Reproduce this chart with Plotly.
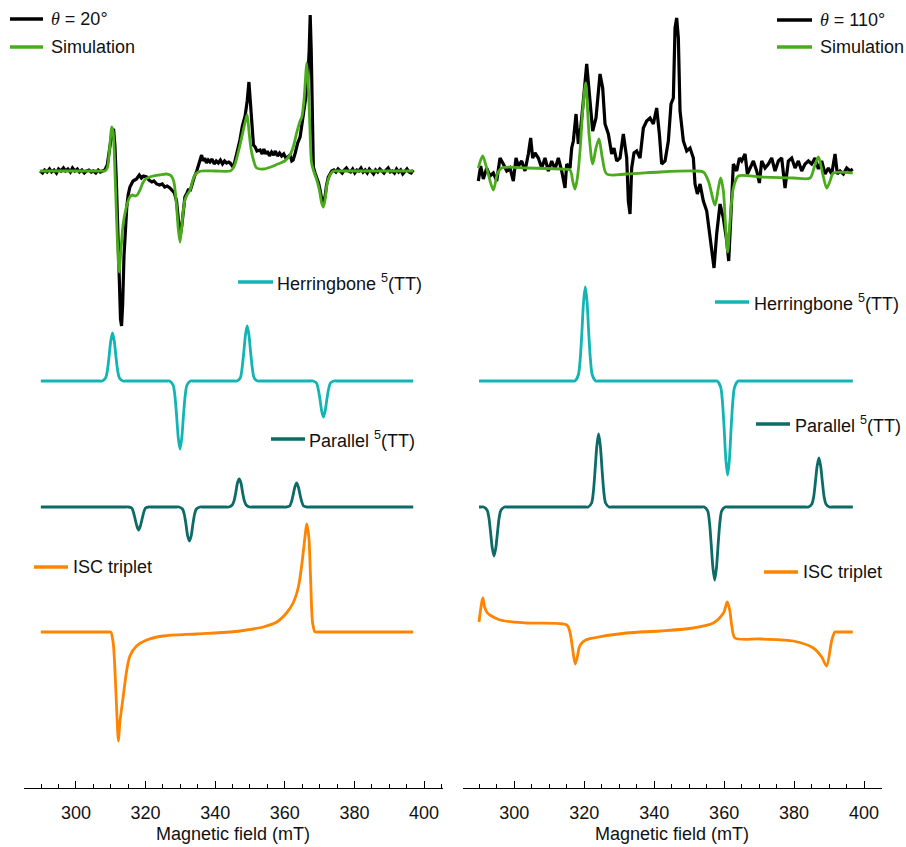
import numpy as np
import plotly.graph_objects as go

# ---------------------------------------------------------------
# Field sweep data (mT) and signal (arbitrary units), theta = 20 deg
# ---------------------------------------------------------------
EXP_20 = [
    (289.7, 0), (290.4, -2), (291.0, 1), (291.7, -1), (292.4, 2), (293.0, -1),
    (293.7, 1), (294.4, -2), (295.0, 2), (295.7, 0), (296.4, 3), (297.0, 0),
    (297.7, 2), (298.4, -1), (299.0, 3), (299.7, 0), (300.4, 2), (301.0, -1),
    (301.7, 1), (302.4, -2), (303.0, 0), (303.7, 1), (304.4, -1), (305.0, 0),
    (305.7, -2), (306.4, 1), (307.0, -1), (307.7, 0), (308.3, 1), (309.0, 6),
    (309.5, 18), (309.9, 32), (310.4, 40), (310.8, 42), (311.2, 25), (311.6, -10),
    (312.0, -60), (312.4, -110), (312.8, -148), (313.1, -155), (313.4, -135),
    (313.8, -85), (314.2, -52), (314.6, -36), (315.0, -24), (315.5, -16),
    (316.4, -10), (317.4, -8), (318.2, -4), (318.8, -7), (319.4, -5), (320.3, -6),
    (321.0, -9), (321.8, -11), (322.4, -10), (323.2, -13), (324.0, -14),
    (324.8, -13), (325.5, -16), (326.2, -15), (327.0, -17), (327.6, -19),
    (328.3, -22), (328.9, -30), (329.4, -50), (329.9, -66), (330.4, -55),
    (330.9, -35), (331.3, -26), (331.9, -22), (332.4, -18), (332.8, -20),
    (333.4, -12), (334.0, -6), (334.7, 0), (335.3, 8), (335.8, 14), (336.1, 16),
    (336.5, 10), (337.0, 13), (337.5, 8), (338.0, 11), (338.5, 9), (339.1, 12),
    (339.7, 7), (340.3, 10), (340.9, 8), (341.5, 11), (342.1, 7), (342.7, 10),
    (343.3, 8), (343.9, 9), (344.3, 8), (344.9, 5), (345.4, 6), (345.9, 12),
    (346.5, 22), (347.1, 31), (347.8, 45), (348.6, 55), (349.2, 70), (349.7, 89),
    (350.1, 70), (350.6, 40), (351.0, 26), (351.5, 24), (352.0, 20), (352.9, 21),
    (353.5, 17), (354.0, 22), (354.5, 17), (355.0, 20), (355.6, 15), (356.2, 19),
    (356.8, 16), (357.3, 20), (357.9, 15), (358.5, 18), (359.1, 15), (359.7, 17),
    (360.3, 13), (360.9, 14), (361.5, 16), (362.0, 10), (362.4, 11), (363.0, 18),
    (363.7, 28), (364.4, 34), (365.1, 50), (365.8, 64), (366.5, 85), (367.0, 120),
    (367.3, 156), (367.6, 120), (367.9, 40), (368.2, 4), (368.7, -2), (369.2, -6),
    (369.7, -12), (370.2, -20), (370.7, -30), (371.1, -32), (371.6, -25),
    (372.0, -14), (372.5, -6), (373.0, -3), (373.5, 0), (374.1, 1), (374.7, -1),
    (375.3, 2), (375.9, 0), (376.5, -2), (377.1, 1), (377.7, 3), (378.3, 0),
    (378.9, -1), (379.5, 2), (380.1, -2), (380.7, 1), (381.3, 0), (381.9, 3),
    (382.5, -1), (383.1, 1), (383.7, -2), (384.3, 2), (384.9, 0), (385.5, -3),
    (386.1, 1), (386.7, -1), (387.3, 2), (387.9, 0), (388.5, -2), (389.1, 1),
    (389.7, 3), (390.3, -1), (390.9, 0), (391.5, -2), (392.1, 2), (392.7, -1),
    (393.3, 1), (393.9, -3), (394.5, 0), (395.1, 2), (395.7, -1), (396.3, -2),
    (396.9, 1),
]

SIM_20 = [
    (289.7, 0), (300.0, 0), (307.5, 0), (308.3, 0), (309.0, 3), (309.6, 20),
    (310.3, 44), (310.7, 38), (311.2, 0), (311.8, -60), (312.4, -101), (312.9, -80),
    (313.5, -55), (314.1, -42), (314.8, -32), (315.5, -26), (316.2, -24),
    (317.0, -25), (317.6, -24), (318.4, -19), (319.2, -12), (320.0, -8),
    (321.2, -6), (322.2, -5), (324.0, -4), (326.0, -3), (327.0, -4), (327.6, -6),
    (328.2, -12), (328.9, -35), (329.4, -58), (329.9, -71), (330.4, -55),
    (330.9, -38), (331.3, -29), (331.9, -24), (332.8, -19), (333.5, -10),
    (334.2, -4), (334.7, -2), (336.0, 0), (340.0, 0), (344.3, 0), (345.0, 2),
    (345.7, 7), (346.2, 13), (347.0, 24), (348.1, 41), (348.7, 50), (349.2, 56),
    (349.7, 40), (350.3, 22), (351.0, 11), (351.9, 3), (353.8, 2), (356.0, 4),
    (358.0, 7), (360.0, 10), (361.5, 16), (362.5, 25), (363.4, 38), (364.4, 50),
    (364.9, 54), (365.5, 70), (366.0, 95), (366.3, 108), (366.7, 90), (367.2, 45),
    (367.7, 8), (368.3, 0), (369.2, -9), (370.0, -20), (370.6, -32), (371.1, -36),
    (371.6, -28), (372.2, -12), (373.0, -4), (374.0, 0), (375.0, 0), (385.0, 0),
    (396.9, 0),
]

HERRINGBONE_20 = [
    (289.9, 0), (300.0, 0), (306.8, 0), (307.5, 0), (308.5, 3), (309.0, 10),
    (309.5, 24), (310.0, 40), (310.5, 48), (311.0, 40), (311.5, 24), (312.0, 10),
    (312.5, 3), (313.5, 0), (314.2, 0), (320.0, 0), (326.2, 0),
    (326.9, 0), (327.9, -4), (328.4, -14), (328.9, -34), (329.4, -57), (329.9, -68),
    (330.4, -57), (330.9, -34), (331.4, -14), (331.9, -4), (332.9, 0), (333.6, 0),
    (340.0, 0), (345.5, 0),
    (346.2, 0), (347.2, 3), (347.7, 12), (348.2, 28), (348.7, 46), (349.2, 55),
    (349.7, 46), (350.2, 28), (350.7, 12), (351.2, 3), (352.2, 0), (352.9, 0),
    (360.0, 0), (367.4, 0),
    (368.1, 0), (369.1, -2), (369.6, -8), (370.1, -18), (370.6, -30), (371.1, -36),
    (371.6, -30), (372.1, -18), (372.6, -8), (373.1, -2), (374.1, 0), (374.8, 0),
    (385.0, 0), (396.9, 0),
]

PARALLEL_20 = [
    (289.9, 0), (300.0, 0), (314.3, 0), (315.0, 0), (316.0, -1), (316.5, -5),
    (317.0, -12), (317.5, -19), (318.0, -23), (318.5, -19), (319.0, -12),
    (319.5, -5), (320.0, -1), (321.0, 0), (321.7, 0), (325.0, 0), (328.9, 0),
    (329.6, 0), (330.6, -2), (331.1, -7), (331.6, -17), (332.1, -29), (332.6, -34),
    (333.1, -29), (333.6, -17), (334.1, -7), (334.6, -2), (335.6, 0), (336.3, 0),
    (340.0, 0), (343.2, 0),
    (343.9, 0), (344.9, 2), (345.4, 6), (345.9, 14), (346.4, 24), (346.9, 28),
    (347.4, 24), (347.9, 14), (348.4, 6), (348.9, 2), (349.9, 0), (350.6, 0),
    (355.0, 0), (359.7, 0),
    (360.4, 0), (361.4, 1), (361.9, 5), (362.4, 12), (362.9, 20), (363.4, 24),
    (363.9, 20), (364.4, 12), (364.9, 5), (365.4, 1), (366.4, 0), (367.1, 0),
    (380.0, 0), (396.9, 0),
]

ISC_20 = [
    (289.9, 0), (300.0, 0), (309.3, 0), (310.0, 0), (310.7, -11), (311.2, -38),
    (311.7, -78), (312.2, -109), (312.6, -91), (313.6, -64), (314.6, -38),
    (315.5, -24), (317.4, -14), (320.3, -8), (325.1, -4), (334.7, -2), (344.3, 0),
    (349.0, 2), (353.8, 5), (357.7, 10), (360.5, 19), (362.4, 29), (363.9, 45),
    (364.8, 65), (365.8, 95), (366.3, 108), (366.9, 95), (367.4, 55), (368.0, 9),
    (368.7, 0), (369.4, 0), (380.0, 0), (396.9, 0),
]

# ---------------------------------------------------------------
# theta = 110 deg
# ---------------------------------------------------------------
EXP_110 = [
    (289.71, -10), (290.38, 5), (291.14, -8), (292.10, 3), (293.05, -5),
    (294.00, -2), (294.96, -10), (295.91, 13), (296.86, 7), (297.82, 0),
    (298.77, 3), (299.72, -10), (300.49, 13), (301.15, 5), (302.11, 10),
    (303.06, 0), (304.01, 17), (304.68, 33), (305.25, 13), (305.92, 18),
    (306.87, 13), (307.83, 3), (308.78, 13), (309.73, 0), (310.69, 10),
    (311.64, 2), (312.59, 13), (313.55, 0), (314.50, -17), (314.98, 7),
    (315.93, 3), (316.41, 23), (316.88, 30), (317.65, 57), (318.31, 27),
    (318.98, 43), (319.74, 70), (320.70, 107), (321.46, 77), (322.41, 40),
    (323.36, 53), (324.51, 97), (325.27, 83), (325.94, 47), (326.89, 37),
    (327.85, 17), (328.51, 23), (329.27, 10), (330.23, 13), (331.18, 37),
    (332.14, 13), (332.61, -30), (333.09, -43), (333.56, 3), (334.23, 18),
    (334.99, 20), (335.95, 13), (336.90, 43), (337.85, 50), (338.81, 53),
    (339.76, 47), (340.71, 63), (341.48, 37), (342.14, 7), (343.10, 10),
    (344.05, 30), (344.81, 67), (345.48, 73), (345.96, 143), (346.43, 153),
    (346.91, 133), (347.39, 60), (348.34, 30), (349.30, 20), (350.25, 23),
    (351.20, 13), (351.68, -13), (352.35, -23), (353.11, -13), (354.06, -30),
    (355.02, -40), (355.78, -63), (356.45, -80), (357.11, -97), (357.87, -63),
    (358.83, -33), (359.78, -47), (360.74, -70), (361.31, -90), (361.88, -43),
    (362.64, 7), (363.59, 0), (364.36, 13), (365.02, 10), (365.98, 17),
    (366.65, -3), (367.40, 3), (368.36, 10), (369.31, 0), (370.08, -12),
    (370.74, 10), (371.70, 3), (372.65, 7), (373.60, 13), (374.56, 0),
    (375.51, 10), (376.46, 13), (377.42, -17), (378.37, 10), (379.32, 13),
    (380.28, 3), (381.23, 10), (382.18, 0), (383.14, 7), (384.09, 10),
    (385.04, 7), (386.00, 13), (386.95, 2), (387.90, 10), (388.86, -3),
    (389.81, 3), (390.76, -3), (391.72, 17), (392.38, -3), (393.15, 0),
    (394.10, -3), (395.05, 3), (396.01, 0), (396.77, 2),
]

SIM_110 = [
    (289.71, 3), (290.95, 15), (292.10, 3), (294.00, -19), (295.15, -3),
    (296.39, 3), (303.54, 3), (313.07, 2), (315.93, 1), (316.69, -10),
    (317.36, -18), (318.03, -7), (318.79, 20), (319.55, 60), (320.41, 88),
    (321.36, 37), (322.41, 7), (323.36, 23), (324.22, 32), (325.18, 13),
    (326.42, -3), (332.14, -3), (341.67, -1), (351.20, 0), (354.06, -1),
    (355.49, -10), (357.40, -34), (358.35, -17), (359.02, -7), (359.78, -20),
    (360.45, -57), (361.02, -81), (361.69, -50), (362.64, -17), (364.07, -5),
    (370.27, -6), (379.80, -7), (384.57, -7), (385.71, 3), (386.95, 14),
    (388.19, -3), (389.33, -17), (390.29, -10), (391.24, -2), (396.77, -2),
]

HERRINGBONE_110 = [
    (289.9, 0), (300.0, 0), (316.6, 0), (317.3, 0), (318.3, 6), (318.8, 20),
    (319.3, 47), (319.8, 79), (320.3, 94), (320.8, 79), (321.3, 47), (321.8, 20),
    (322.3, 6), (323.3, 0), (324.0, 0), (340.0, 0), (357.3, 0),
    (358.0, 0), (359.0, -6), (359.5, -20), (360.0, -47), (360.5, -79), (361.0, -94),
    (361.5, -79), (362.0, -47), (362.5, -20), (363.0, -6), (364.0, 0), (364.7, 0),
    (380.0, 0), (396.8, 0),
]

PARALLEL_110 = [
    (289.9, 0), (290.6, 0), (291.2, 0), (292.2, -3), (292.7, -10), (293.2, -25),
    (293.7, -41), (294.2, -49), (294.7, -41), (295.2, -25), (295.7, -10),
    (296.2, -3), (297.2, 0), (297.9, 0), (310.0, 0), (320.4, 0),
    (321.1, 0), (322.1, 4), (322.6, 15), (323.1, 37), (323.6, 61), (324.1, 73),
    (324.6, 61), (325.1, 37), (325.6, 15), (326.1, 4), (327.1, 0), (327.8, 0),
    (340.0, 0), (353.6, 0),
    (354.3, 0), (355.3, -4), (355.8, -15), (356.3, -37), (356.8, -61), (357.3, -73),
    (357.8, -61), (358.3, -37), (358.8, -15), (359.3, -4), (360.3, 0), (361.0, 0),
    (372.0, 0), (383.4, 0),
    (384.1, 0), (385.1, 3), (385.6, 10), (386.1, 25), (386.6, 41), (387.1, 49),
    (387.6, 41), (388.1, 25), (388.6, 10), (389.1, 3), (390.1, 0), (390.8, 0),
    (396.8, 0),
]

ISC_110 = [
    (289.9, 10), (291.0, 34), (291.5, 25), (292.3, 19), (293.0, 17), (295.9, 12),
    (303.5, 9), (315.0, 7), (315.9, 0), (316.6, -15), (317.4, -32), (318.0, -25),
    (318.6, -15), (319.3, -11), (320.4, -8), (322.6, -6), (332.1, -1), (341.7, 1),
    (351.2, 4), (356.9, 9), (359.8, 19), (360.9, 30), (361.6, 22), (362.2, 6),
    (363.1, -6), (370.3, -7), (379.8, -9), (385.5, -16), (387.9, -25),
    (389.3, -34), (390.8, -8), (391.7, 0), (392.4, 0), (396.8, 0),
]

# Vertical stacking of the traces (y-axis units)
OFFSET_EXP = 617
OFFSET_HB = 407
OFFSET_PAR = 281
OFFSET_ISC = 156

BLACK = "#000000"
GREEN = "#4aab1c"
CYAN = "#12b4b4"
TEAL = "#0c6b67"
ORANGE = "#ff8400"

W, H = 906, 847
PLOT_H = 788  # height of the plotting area in px (bottom margin holds the axis labels)
FONT = "Liberation Sans, Arial, Helvetica, sans-serif"


def unzip(pairs, offset):
    arr = np.array(pairs, dtype=float)
    return arr[:, 0], arr[:, 1] + offset


fig = go.Figure()


def add_trace(pairs, offset, color, xaxis, shape="spline", width=2.8):
    x, y = unzip(pairs, offset)
    line = dict(color=color, width=width, shape=shape)
    if shape == "spline":
        line["smoothing"] = 0.8
    fig.add_trace(go.Scatter(
        x=x, y=y, mode="lines", xaxis=xaxis, yaxis="y",
        line=line, showlegend=False, hoverinfo="skip",
    ))


# left panel (x)
add_trace(EXP_20, OFFSET_EXP, BLACK, "x", shape="linear", width=3.2)
add_trace(SIM_20, OFFSET_EXP, GREEN, "x")
add_trace(HERRINGBONE_20, OFFSET_HB, CYAN, "x")
add_trace(PARALLEL_20, OFFSET_PAR, TEAL, "x")
add_trace(ISC_20, OFFSET_ISC, ORANGE, "x")

# right panel (x2)
add_trace(EXP_110, OFFSET_EXP, BLACK, "x2", shape="linear", width=3.2)
add_trace(SIM_110, OFFSET_EXP, GREEN, "x2")
add_trace(HERRINGBONE_110, OFFSET_HB, CYAN, "x2")
add_trace(PARALLEL_110, OFFSET_PAR, TEAL, "x2")
add_trace(ISC_110, OFFSET_ISC, ORANGE, "x2")


def px(x):
    return x / W


def py(y):
    return (PLOT_H - y) / PLOT_H


shapes = []
annotations = []


def legend_item(x0, x1, y, color, text, tx, width=3.5):
    shapes.append(dict(type="line", xref="paper", yref="paper",
                       x0=px(x0), x1=px(x1), y0=py(y), y1=py(y),
                       line=dict(color=color, width=width)))
    annotations.append(dict(xref="paper", yref="paper", x=px(tx), y=py(y),
                            xanchor="left", yanchor="middle", showarrow=False,
                            text=text, font=dict(family=FONT, size=18, color="#111111")))


THETA = "<span style=\"font-family:'Liberation Serif', 'DejaVu Serif', serif\"><i>θ</i></span>"
legend_item(10, 43, 19, BLACK, THETA + " = 20°", 49)
legend_item(10, 43, 47, GREEN, "Simulation", 49)
legend_item(238, 273, 282, CYAN, "Herringbone <sup>5</sup>(TT)", 275)
legend_item(271, 305, 439, TEAL, "Parallel <sup>5</sup>(TT)", 307)
legend_item(34, 68, 567, ORANGE, "ISC triplet", 71)

legend_item(777, 812, 20, BLACK, THETA + " = 110°", 818)
legend_item(777, 812, 47, GREEN, "Simulation", 818)
legend_item(715, 749, 302, CYAN, "Herringbone <sup>5</sup>(TT)", 752)
legend_item(756, 790, 424, TEAL, "Parallel <sup>5</sup>(TT)", 793)
legend_item(764, 798, 572, ORANGE, "ISC triplet", 801)

for cx in (233, 672):
    annotations.append(dict(xref="paper", yref="paper", x=px(cx), y=py(834),
                            xanchor="center", yanchor="middle", showarrow=False,
                            text="Magnetic field (mT)",
                            font=dict(family=FONT, size=18, color="#111111")))


def xaxis_style(domain, rng):
    return dict(
        domain=domain, range=rng, anchor="y",
        showline=True, linecolor="black", linewidth=1.3,
        ticks="inside", ticklen=7, tickwidth=1.3, tickcolor="black",
        tick0=300, dtick=20, ticklabelstandoff=8,
        minor=dict(ticks="inside", ticklen=4, tickwidth=1.3, tickcolor="black", dtick=5, tick0=0, showgrid=False),
        showgrid=False, zeroline=False,
        tickfont=dict(family=FONT, size=18, color="#111111"),
        fixedrange=True,
    )


fig.update_layout(
    width=W, height=H,
    margin=dict(l=0, r=0, t=0, b=H - PLOT_H),
    paper_bgcolor="white", plot_bgcolor="white",
    xaxis=xaxis_style([24.1 / W, 442.7 / W], [285.1, 405.37]),
    xaxis2=xaxis_style([462.7 / W, 881.7 / W], [285.24, 405.06]),
    yaxis=dict(range=[0, PLOT_H], visible=False, fixedrange=True),
    shapes=shapes,
    annotations=annotations,
    showlegend=False,
)

fig.write_html("out.html")
